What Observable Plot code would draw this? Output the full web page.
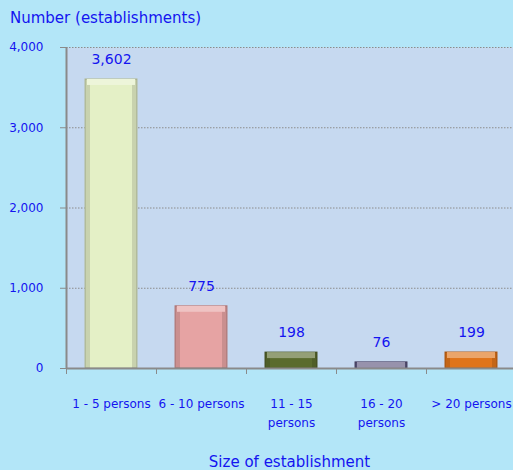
<!DOCTYPE html>
<html><head><meta charset="utf-8">
<script src="https://cdn.jsdelivr.net/npm/d3@7"></script>
<script src="https://cdn.jsdelivr.net/npm/@observablehq/plot@0.6"></script>
<style>
body{margin:0;background:#b3e6f8;}
#wrap{position:relative;width:513px;height:470px;overflow:hidden;background:#b3e6f8;font-family:"DejaVu Sans",sans-serif;color:#1414f0;}
#title{position:absolute;left:10px;top:9px;font-size:15px;}
#xtitle{position:absolute;left:66px;width:447px;text-align:center;top:453px;font-size:15px;}
#chart{position:absolute;left:0;top:0;}
</style></head><body>
<div id="wrap"><div id="chart"></div><div id="title">Number (establishments)</div><div id="xtitle">Size of establishment</div></div>
<script>
const categories = ["1 - 5 persons", "6 - 10 persons", "11 - 15\npersons", "16 - 20\npersons", "> 20 persons"];
const values = [3602, 775, 198, 76, 199];
const barColors = ["#e4f0c6", "#e6a3a3", "#5a6b2e", "#5f5880", "#e0741a"];
const yTicks = [0, 1000, 2000, 3000, 4000];
const data = categories.map((c, i) => ({
  cat: c, value: values[i], color: barColors[i],
  edge: d3.color(barColors[i]).darker(0.7).formatHex(),
  light: d3.color(d3.interpolateRgb(barColors[i], "#ffffff")(0.35)).formatHex()
}));
const blue = "#1414f0";
const chart = Plot.plot({
  width: 513, height: 470,
  marginLeft: 66, marginRight: 0, marginTop: 47, marginBottom: 102,
  style: {background: "transparent", fontFamily: "DejaVu Sans, sans-serif", fontSize: "12px", overflow: "visible"},
  x: {domain: categories, range: [66, 516], paddingInner: 0.42, paddingOuter: 0.21, label: null},
  y: {domain: [0, 4000], label: null},
  color: {type: "identity"},
  marks: [
    Plot.frame({fill: "#c6d9f0", stroke: null}),
    Plot.gridY(yTicks.filter(d => d > 0), {stroke: "#8c8c8c", strokeOpacity: 1, strokeDasharray: "1.5,1.5", strokeWidth: 1}),
    Plot.barY(data, {x: "cat", y: "value", fill: "color", stroke: "edge", strokeWidth: 1}),
    Plot.barY(data, {x: "cat", y: "value", fill: "black", fillOpacity: 0.12, insetRight: 47}),
    Plot.barY(data, {x: "cat", y: "value", fill: "black", fillOpacity: 0.12, insetLeft: 47}),
    Plot.barY(data, {x: "cat", y1: "value", y2: "value", fill: "light", insetBottom: -6, insetLeft: 2, insetRight: 2}),
    Plot.text(data, {x: "cat", y: "value", text: d => d3.format(",")(d.value), dy: -20, fill: blue, fontSize: 14}),
    Plot.ruleY([0], {stroke: "#8a8a8a", strokeWidth: 2}),
    Plot.axisY({ticks: yTicks, tickFormat: d3.format(","), tickSize: 6, tickPadding: 17, stroke: "#8a8a8a", fill: blue, fontSize: 12, label: null}),
    Plot.axisX({tickSize: 6, stroke: "#8a8a8a", dx: -45, tickFormat: () => "", label: null}),
    Plot.axisX({tickSize: 0, tickPadding: 26, tickFormat: d => d, fill: blue, fontSize: 12, lineHeight: 1.6, textAnchor: "middle", lineAnchor: "top", label: null}),
    Plot.ruleX([categories[0]], {x: d => d, dx: -45, y1: 0, y2: 4000, stroke: "#8a8a8a", strokeWidth: 2})
  ]
});
document.getElementById("chart").appendChild(chart);
</script>
</body></html>
